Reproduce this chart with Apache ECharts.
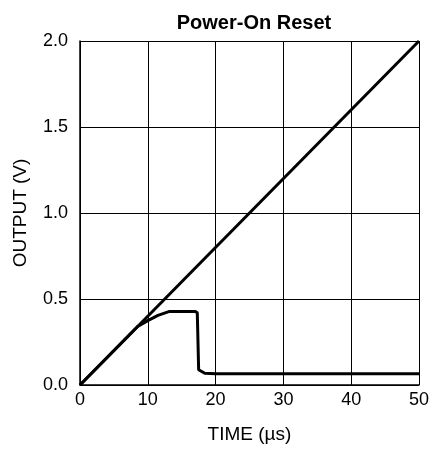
<!DOCTYPE html>
<html>
<head>
<meta charset="utf-8">
<script src="https://cdn.jsdelivr.net/npm/echarts@6/dist/echarts.min.js"></script>
<style>
html, body { margin: 0; padding: 0; background: #fff; }
#chart { width: 434px; height: 449px; }
</style>
</head>
<body>
<div id="chart"></div>
<script>
// supply ramp (V vs µs)
const rampTime = [0, 50]
const rampOut = [0, 2.0]
// reset output
const resetTime = [0, 8.5, 10, 11.5, 13.2, 17.0, 17.3, 17.5, 18.4, 20, 50]
const resetOut = [0, 0.34, 0.374, 0.405, 0.428, 0.428, 0.42, 0.089, 0.068, 0.065, 0.065]

const xTicks = [0, 10, 20, 30, 40, 50]
const yTicks = [0, 0.5, 1.0, 1.5, 2.0]

const pairs = (xs, ys) => xs.map((x, i) => [x, ys[i]])

const charts = echarts.init(document.getElementById('chart'))
const font = 'Liberation Sans, Arial, sans-serif'
const options = {
  animation: false,
  title: {
    text: 'Power-On Reset',
    left: 249,
    textAlign: 'center',
    top: 8,
    textStyle: { fontFamily: font, fontSize: 20, fontWeight: 'bold', color: '#000' }
  },
  grid: {
    left: 80,
    right: 15,
    top: 41,
    bottom: 63
  },
  xAxis: {
    type: 'value',
    min: xTicks[0],
    max: xTicks[xTicks.length - 1],
    interval: 10,
    name: 'TIME (µs)',
    nameLocation: 'middle',
    nameGap: 40,
    nameTextStyle: { fontFamily: font, fontSize: 19, color: '#000' },
    axisLine: { lineStyle: { color: '#000', width: 1.5 } },
    axisTick: { show: false },
    axisLabel: { fontFamily: font, fontSize: 18, color: '#000', margin: 6 },
    splitLine: { show: true, lineStyle: { color: '#000', width: 1 } }
  },
  yAxis: {
    type: 'value',
    min: yTicks[0],
    max: yTicks[yTicks.length - 1],
    interval: 0.5,
    name: 'OUTPUT (V)',
    nameLocation: 'middle',
    nameGap: 50,
    nameTextStyle: { fontFamily: font, fontSize: 19, color: '#000' },
    axisLine: { show: true, lineStyle: { color: '#000', width: 1.5 } },
    axisTick: { show: false },
    axisLabel: {
      fontFamily: font, fontSize: 18, color: '#000', margin: 12,
      formatter: v => v.toFixed(1)
    },
    splitLine: { show: true, lineStyle: { color: '#000', width: 1 } }
  },
  series: [
    {
      type: 'line',
      data: pairs(rampTime, rampOut),
      showSymbol: false,
      lineStyle: { color: '#000', width: 3 }
    },
    {
      type: 'line',
      data: pairs(resetTime, resetOut),
      showSymbol: false,
      lineStyle: { color: '#000', width: 3 }
    }
  ]
}
charts.setOption(options)
</script>
</body>
</html>
